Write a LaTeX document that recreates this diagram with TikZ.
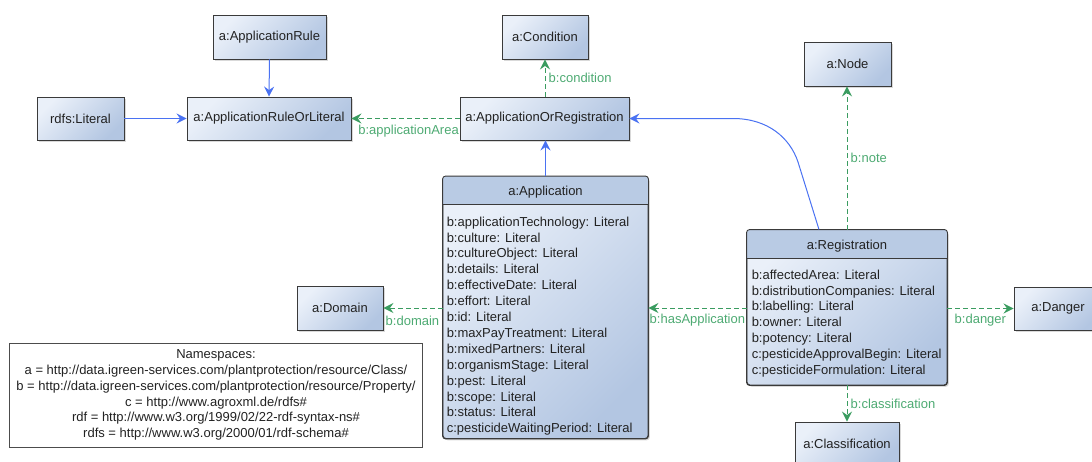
\documentclass[tikz,border=0pt]{standalone}
\usepackage{fontspec}
\setmainfont{Liberation Sans}
\usetikzlibrary{arrows.meta,shadows}

\definecolor{boxlight}{HTML}{EAF0F9}
\definecolor{boxdark}{HTML}{B3C6E2}
\definecolor{headblue}{HTML}{B9CBE4}
\definecolor{edgegray}{HTML}{3A3A3A}
\definecolor{linkblue}{HTML}{4A72F2}
\definecolor{linkgreen}{HTML}{3A9C60}
\definecolor{labelgreen}{HTML}{4DAA72}
\definecolor{inktext}{HTML}{222222}

\begin{document}
\begin{tikzpicture}[x=1pt,y=-1pt,
  every node/.style={font=\fontsize{13}{15.9}\selectfont, text=inktext},
  shadowed/.style={drop shadow={shadow xshift=1.8pt, shadow yshift=-1.8pt, opacity=0.3}},
  simplebox/.style={shadowed, draw=edgegray, line width=0.9pt,
    top color=boxlight, bottom color=boxdark, shading angle=45,
    inner sep=0pt, minimum height=44pt},
  umlbox/.style={shadowed, draw=edgegray, line width=0.9pt, rounded corners=3pt,
    top color=boxlight, bottom color=boxdark, shading angle=45, inner sep=0pt},
  tip/.style={-{Stealth[length=10pt,width=10pt,inset=3.5pt]}},
  bluelink/.style={tip, draw=linkblue, line width=1pt},
  greenlink/.style={tip, draw=linkgreen, line width=1pt, dash pattern=on 5pt off 3pt},
  lbl/.style={text=labelgreen, inner sep=0pt},
  attrs/.style={anchor=north west, align=left, inner sep=0pt}
]
\useasboundingbox (0,0) rectangle (1092,461);

% simple class boxes
\node[simplebox, minimum width=113pt] (rule) at (269.5,37) {a:ApplicationRule};
\node[simplebox, minimum width=87pt, minimum height=43pt] (lit) at (80.5,118.5) {rdfs:Literal};
\node[simplebox, minimum width=164pt, minimum height=43pt] (arl) at (269,118.5) {a:ApplicationRuleOrLiteral};
\node[simplebox, minimum width=86pt] (cond) at (545,37) {a:Condition};
\node[simplebox, minimum width=169pt, minimum height=43pt] (aor) at (544.5,118.5) {a:ApplicationOrRegistration};
\node[simplebox, minimum width=87pt] (nd) at (847.5,64) {a:Node};
\node[simplebox, minimum width=86pt] (dom) at (340,308) {a:Domain};
\node[simplebox, minimum width=88pt, minimum height=43pt] (dng) at (1058,308.5) {a:Danger};
\node[simplebox, minimum width=104pt] (clsf) at (847,444) {a:Classification};

% class a:Application with header and attribute list
\node[umlbox, minimum width=205pt, minimum height=262pt] (app) at (545.5,307.5) {};
\begin{scope}
  \clip[rounded corners=3pt] (app.north west) rectangle (app.south east);
  \fill[headblue] (app.north west) rectangle ([yshift=-28pt]app.north east);
\end{scope}
\draw[edgegray, line width=0.9pt] ([yshift=-28pt]app.north west) -- ([yshift=-28pt]app.north east);
\draw[edgegray, line width=0.9pt, rounded corners=3pt] (app.north west) rectangle (app.south east);
\node (apptitle) at ([yshift=-16pt]app.north) {a:Application};
\node[attrs] (appattrs) at ([xshift=4pt,yshift=-40.5pt]app.north west)
  {b:applicationTechnology: Literal\\
   b:culture: Literal\\
   b:cultureObject: Literal\\
   b:details: Literal\\
   b:effectiveDate: Literal\\
   b:effort: Literal\\
   b:id: Literal\\
   b:maxPayTreatment: Literal\\
   b:mixedPartners: Literal\\
   b:organismStage: Literal\\
   b:pest: Literal\\
   b:scope: Literal\\
   b:status: Literal\\
   c:pesticideWaitingPeriod: Literal};

% class a:Registration with header and attribute list
\node[umlbox, minimum width=200pt, minimum height=155pt] (reg) at (847,307.5) {};
\begin{scope}
  \clip[rounded corners=3pt] (reg.north west) rectangle (reg.south east);
  \fill[headblue] (reg.north west) rectangle ([yshift=-29pt]reg.north east);
\end{scope}
\draw[edgegray, line width=0.9pt] ([yshift=-29pt]reg.north west) -- ([yshift=-29pt]reg.north east);
\draw[edgegray, line width=0.9pt, rounded corners=3pt] (reg.north west) rectangle (reg.south east);
\node (regtitle) at ([yshift=-16.5pt]reg.north) {a:Registration};
\node[attrs] (regattrs) at ([xshift=5pt,yshift=-40pt]reg.north west)
  {b:affectedArea: Literal\\
   b:distributionCompanies: Literal\\
   b:labelling: Literal\\
   b:owner: Literal\\
   b:potency: Literal\\
   c:pesticideApprovalBegin: Literal\\
   c:pesticideFormulation: Literal};

% namespace legend
\node[draw=black!70, line width=0.8pt, fill=white, minimum width=413pt, minimum height=104pt, inner sep=0pt] (ns) at (216,395) {};
\node[align=center, inner sep=0pt, font=\fontsize{13}{15.8}\selectfont] (nstext) at (ns.center)
  {Namespaces:\\
   a = http://data.igreen-services.com/plantprotection/resource/Class/\\
   b = http://data.igreen-services.com/plantprotection/resource/Property/\\
   c = http://www.agroxml.de/rdfs\#\\
   rdf = http://www.w3.org/1999/02/22-rdf-syntax-ns\#\\
   rdfs = http://www.w3.org/2000/01/rdf-schema\#};

% subclass links
\draw[bluelink] (rule.south) -- (arl.north);
\draw[bluelink] (lit.east) -- (arl.west);
\draw[bluelink] (app.north) -- (app.north |- aor.south);
\draw[bluelink] ([xshift=-28pt]reg.north) -- (798,162)
  .. controls (790,138) and (768,118.5) .. (733,118.5) -- (aor.east);

% property links
\draw[greenlink] (aor.west) -- (arl.east);
\node[lbl, anchor=east] (lArea) at (459,131) {b:applicationArea};
\draw[greenlink] (aor.north -| cond.south) -- (cond.south);
\node[lbl, anchor=west] (lCond) at (548.5,78) {b:condition};
\draw[greenlink] (reg.north) -- (reg.north |- nd.south);
\node[lbl, anchor=west] (lNote) at (850.5,158) {b:note};
\draw[greenlink] (app.west |- dom.east) -- (dom.east);
\node[lbl, anchor=west] (lDom) at (385.5,320.5) {b:domain};
\draw[greenlink] (reg.west |- dom.east) -- (app.east |- dom.east);
\node[lbl, anchor=west] (lHas) at (649.5,320.5) {b:hasApplication};
\draw[greenlink] (reg.east |- dng.west) -- (dng.west);
\node[lbl, anchor=west] (lDng) at (954.5,320.5) {b:danger};
\draw[greenlink] (reg.south) -- (reg.south |- clsf.north);
\node[lbl, anchor=west] (lCls) at (850.5,404) {b:classification};
\end{tikzpicture}
\end{document}
